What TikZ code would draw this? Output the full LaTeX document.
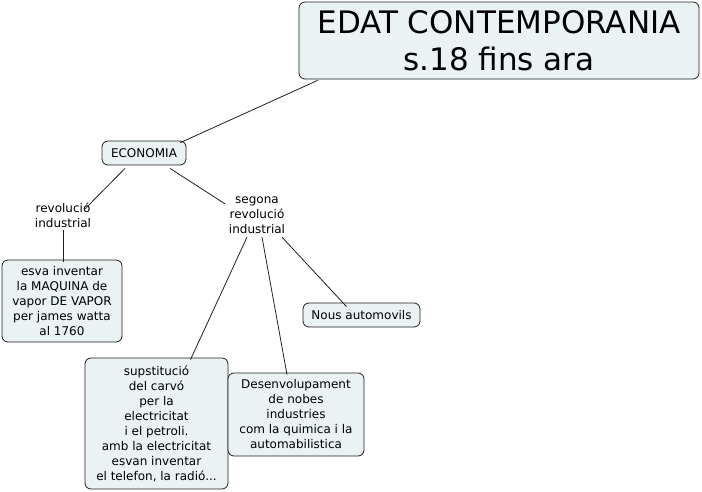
\documentclass[tikz,border=0pt]{standalone}
\usepackage{fontspec}
\setmainfont{DejaVu Sans}
\definecolor{boxfill}{RGB}{234,242,244}
\definecolor{edge}{RGB}{30,30,30}
\begin{document}
\begin{tikzpicture}[x=1pt,y=-1pt,
  box/.style={draw=edge, fill=boxfill, rounded corners=6pt, align=center, inner sep=0pt, line width=0.8pt, font=\fontsize{12}{15}\selectfont},
  lbl/.style={align=center, inner sep=0pt, font=\fontsize{12}{15}\selectfont},
  conn/.style={draw=edge, line width=0.8pt}]
\useasboundingbox (0,0) rectangle (702,491);
\node[box, minimum width=400pt, minimum height=77pt, font=\fontsize{31}{37}\selectfont] (title) at (499,40.5) {EDAT CONTEMPORANIA\\s.18 fins ara};
\node[box, minimum width=84pt, minimum height=24pt] (eco) at (144,153) {ECONOMIA};
\node[lbl] (rev) at (63,215.5) {revolució\\industrial};
\node[lbl] (seg) at (257,215.5) {segona\\revolució\\industrial};
\node[box, minimum width=120pt, minimum height=82pt] (esva) at (62,301) {esva inventar\\ la MAQUINA de\\vapor DE VAPOR\\per james watta\\ al 1760};
\node[box, minimum width=117pt, minimum height=24pt] (nous) at (361.5,315) {Nous automovils};
\node[box, minimum width=143pt, minimum height=131pt] (sup) at (156.5,423.5) {supstitució\\del carvó\\per la\\electricitat\\i el petroli.\\amb la electricitat\\esvan inventar\\el telefon, la radió...};
\node[box, minimum width=136pt, minimum height=83pt] (des) at (296,414.5) {Desenvolupament\\de nobes\\industries\\com la quimica i la\\automabilistica};
\draw[conn] ([xshift=19pt,yshift=-1pt]title.south west) -- ([xshift=-6pt,yshift=-2pt]eco.north east);
\draw[conn] ([xshift=-19pt,yshift=-3pt]eco.south) -- ([xshift=21pt,yshift=-7pt]rev.north);
\draw[conn] ([xshift=26pt,yshift=-3pt]eco.south) -- ([xshift=-32pt,yshift=-7pt]seg.north);
\draw[conn] ([yshift=-2pt]rev.south) -- ([xshift=1pt,yshift=-2pt]esva.north);
\draw[conn] ([xshift=-10pt,yshift=-3pt]seg.south) -- ([xshift=34pt,yshift=-2pt]sup.north);
\draw[conn] ([xshift=5pt,yshift=-3pt]seg.south) -- ([xshift=-9pt,yshift=-2pt]des.north);
\draw[conn] ([xshift=25pt,yshift=-3pt]seg.south) -- ([xshift=-15pt,yshift=-4pt]nous.north);
\end{tikzpicture}
\end{document}
